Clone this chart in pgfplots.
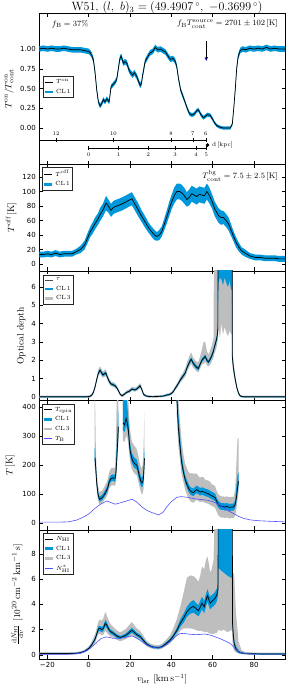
\documentclass[border=0pt]{standalone}
\usepackage{fontspec}
\usepackage{pgfplots}
\pgfplotsset{compat=1.18}
\usepackage{pgfplotstable}
\usepgfplotslibrary{fillbetween}
\usetikzlibrary{arrows.meta}
\newfontfamily\tickfont{DejaVu Sans}
\definecolor{clblue}{RGB}{0,152,218}
\definecolor{clgray}{RGB}{190,190,190}
\definecolor{tbblue}{RGB}{80,80,255}

\pgfplotsset{
  panel/.style={
    scale only axis, width=245.7pt, anchor=south west,
    xmin=-23.9, xmax=95,
    xtick={-20,0,20,40,60,80},
    xticklabels={},
    tick align=inside,
    major tick length=3.5pt,
    every tick/.style={black, line width=0.5pt},
    axis line style={line width=0.7pt},
    tick label style={font=\tickfont\fontsize{7}{8}\selectfont},
    label style={font=\fontsize{9.5}{11}\selectfont},
    legend cell align=left,
    legend style={font=\fontsize{6}{7}\selectfont, draw=black!85, line width=0.7pt,
      inner sep=0.5pt, anchor=north west},
    legend image code/.code={\draw[##1] (0pt,0pt) -- (8pt,0pt);},
  },
}

% ---------- data ----------
\pgfplotstableread{
v y e
-24 1.00 0.035
-22 1.01 0.035
-20 1.00 0.035
-18 1.01 0.035
-16 1.00 0.035
-14 1.00 0.035
-12 1.01 0.035
-10 1.00 0.035
-8 0.99 0.035
-6 0.99 0.035
-4 0.99 0.035
-2 0.98 0.035
0 0.97 0.035
0.8 0.95 0.035
1.5 0.92 0.035
2.3 0.86 0.035
3.1 0.70 0.035
3.9 0.48 0.03
4.7 0.33 0.03
5.5 0.28 0.03
6.3 0.31 0.03
7.1 0.36 0.03
7.9 0.33 0.03
8.8 0.37 0.03
9.9 0.33 0.03
10.8 0.52 0.03
11.8 0.55 0.03
12.8 0.58 0.03
13.6 0.62 0.03
14.4 0.76 0.035
15.1 0.88 0.035
15.7 0.91 0.035
16.8 0.82 0.035
17.6 0.84 0.035
18.5 0.82 0.035
19.3 0.75 0.035
20 0.71 0.035
21.2 0.67 0.035
22.1 0.70 0.035
23.3 0.65 0.035
24.3 0.58 0.035
24.9 0.54 0.035
25.5 0.56 0.035
26 0.65 0.035
27.3 0.84 0.035
28.5 0.90 0.035
29.7 0.95 0.035
31 0.97 0.035
32.2 1.02 0.035
33.5 0.99 0.035
34.7 1.00 0.035
36 0.98 0.035
37.2 0.96 0.035
38.4 0.91 0.035
39.5 0.87 0.035
40.8 0.88 0.035
41.8 0.85 0.035
42.6 0.78 0.035
43.5 0.62 0.03
44.5 0.48 0.03
45.5 0.41 0.03
46.6 0.33 0.025
47.8 0.24 0.025
48.8 0.18 0.025
49.9 0.165 0.025
50.7 0.17 0.025
51.5 0.19 0.025
52.3 0.22 0.025
53.1 0.23 0.025
54.3 0.17 0.025
55.5 0.13 0.025
56.5 0.15 0.025
57.5 0.17 0.025
58.8 0.16 0.025
59.8 0.12 0.025
60.8 0.07 0.02
62 0.03 0.02
63.6 0.01 0.02
65 0.00 0.02
67 0.00 0.02
68.5 0.00 0.02
69.5 0.05 0.02
70.2 0.25 0.025
70.9 0.48 0.03
71.6 0.75 0.035
72.3 0.90 0.035
73.3 0.98 0.035
74.5 1.00 0.035
76 0.99 0.035
78 1.01 0.035
80 1.00 0.035
82 1.01 0.035
84 1.00 0.035
86 1.02 0.035
88 1.00 0.035
90 1.01 0.035
92 1.00 0.035
95 1.00 0.035
}\Ton

\pgfplotstableread{
v y e
-24 13 4
-22 13 4
-20 14 4
-18 13 4
-16 15 4
-14 13 4
-12 14 4
-10 14 4
-8 14 4
-6 17 4
-4 20 5
-2 26 6
-0.5 36 7
0.7 44 7
2 50 8
3.1 56 8
4.5 62 8
5.5 68 9
7 75 9
8.4 84 10
9.5 80 9
10.8 74 9
12 78 9
13.6 80 9
15.5 82 9
17.6 85 9
19.5 88 9
20.9 90 9
22.5 82 9
24.1 74 9
25.6 66 8
27.3 58 8
29 50 7
30.6 44 7
31.8 40 7
33 38 6
34.2 40 7
35.4 45 7
36.5 54 8
37.8 65 9
39 76 10
40.2 86 10
41.5 95 11
42.7 100 11
44 100 11
45.1 98 11
46.3 94 11
47.5 89 10
48.7 92 11
49.9 97 11
51 95 11
52.3 93 11
53.5 96 11
54.8 95 11
56 94 11
57.2 100 11
58.3 95 11
59.6 87 10
61 76 10
62.8 67 10
64 64 10
65.2 64 9
66.5 60 9
67.7 55 9
69 46 8
70.1 38 7
71.3 30 7
72.5 24 6
74 18 5
75.7 15 5
78 11 4
80.6 9 4
83 9 4
85 8 4
87 8 4
90 8 4
92 7 4
95 7 4
}\Toff

\pgfplotstableread{
v y a1 b1 a3 b3
-24 0 0.03 0.03 0.06 0.06
-18 0 0.03 0.03 0.06 0.06
-12 0 0.03 0.03 0.06 0.06
-6 0 0.03 0.03 0.06 0.06
-2 0 0.03 0.03 0.06 0.06
0.5 0.02 0.03 0.03 0.06 0.06
1.5 0.1 0.04 0.04 0.08 0.08
2.3 0.25 0.05 0.05 0.1 0.1
3.1 0.55 0.06 0.06 0.12 0.12
3.9 0.95 0.07 0.07 0.15 0.15
4.7 1.3 0.08 0.08 0.17 0.2
5.5 1.45 0.08 0.08 0.18 0.22
6.3 1.3 0.08 0.08 0.17 0.2
6.8 1.2 0.08 0.08 0.16 0.18
7.6 1.25 0.08 0.08 0.16 0.2
8.3 1.3 0.08 0.08 0.17 0.2
9.1 1.05 0.07 0.07 0.15 0.17
9.9 0.85 0.07 0.07 0.14 0.15
10.8 0.7 0.06 0.06 0.12 0.14
12 0.65 0.06 0.06 0.12 0.14
12.8 0.6 0.06 0.06 0.12 0.13
13.6 0.5 0.05 0.05 0.1 0.12
14.4 0.33 0.05 0.05 0.1 0.1
15.2 0.15 0.04 0.04 0.08 0.08
16 0.06 0.04 0.04 0.07 0.07
16.8 0.1 0.04 0.04 0.07 0.08
17.6 0.18 0.04 0.04 0.08 0.08
18.5 0.25 0.04 0.04 0.08 0.1
19.6 0.3 0.05 0.05 0.09 0.1
20.9 0.42 0.05 0.05 0.1 0.12
21.7 0.4 0.05 0.05 0.1 0.12
22.5 0.38 0.05 0.05 0.1 0.12
23.5 0.45 0.05 0.05 0.1 0.13
24.9 0.6 0.06 0.06 0.12 0.15
25.7 0.4 0.05 0.05 0.1 0.12
26.5 0.15 0.04 0.04 0.08 0.08
27.5 0.06 0.03 0.03 0.07 0.07
28.9 0.02 0.03 0.03 0.06 0.06
31 0.01 0.03 0.03 0.06 0.06
33 0.02 0.03 0.03 0.06 0.06
35 0.03 0.03 0.03 0.06 0.06
36.5 0.05 0.03 0.03 0.06 0.07
37.8 0.1 0.04 0.04 0.07 0.08
39 0.12 0.04 0.04 0.07 0.08
40.2 0.2 0.04 0.04 0.08 0.1
41 0.3 0.05 0.05 0.09 0.1
41.8 0.45 0.05 0.05 0.1 0.12
42.7 0.6 0.06 0.06 0.12 0.14
43.5 0.75 0.06 0.06 0.13 0.15
44.5 0.95 0.07 0.07 0.15 0.18
45.5 1.1 0.07 0.07 0.17 0.2
46.7 1.3 0.08 0.08 0.2 0.25
47.8 1.65 0.09 0.09 0.22 0.3
48.8 1.9 0.1 0.1 0.25 0.35
49.6 2.05 0.1 0.1 0.25 0.38
50.5 1.85 0.1 0.1 0.25 0.3
51.5 1.7 0.1 0.1 0.22 0.3
52.3 1.6 0.1 0.1 0.22 0.3
53.1 1.55 0.1 0.1 0.22 0.35
54 1.8 0.1 0.1 0.25 0.45
54.8 2.0 0.1 0.1 0.25 0.6
55.6 2.1 0.1 0.1 0.3 0.9
56.4 2.2 0.1 0.1 0.3 0.8
57.2 2.0 0.1 0.1 0.28 0.5
58 1.9 0.1 0.1 0.25 0.4
58.8 2.05 0.1 0.1 0.28 0.5
59.6 2.25 0.12 0.12 0.3 0.55
60.4 2.5 0.12 0.12 0.35 0.7
60.8 2.7 0.12 0.12 0.35 9
61.2 2.85 0.13 0.13 0.4 9
62 3.2 0.15 0.15 0.45 9
62.5 3.6 0.2 0.5 0.5 9
62.8 30 23.8 5 26.2 5
63.5 30 23.5 5 26.8 5
64.2 30 23.6 5 26.0 5
65 30 23.9 5 26.6 5
65.8 30 23.5 5 26.2 5
66.6 30 23.8 5 26.5 5
67.4 30 24.0 5 26.7 5
68.2 30 23.7 5 26.4 5
69.0 30 24.2 5 26.6 5
69.3 30 24.0 5 26.5 5
69.5 2.2 0.15 0.3 0.4 0.6
70 1.6 0.12 0.2 0.3 0.4
70.4 1.3 0.1 0.15 0.25 0.3
71 0.9 0.08 0.1 0.2 0.2
71.7 0.5 0.06 0.06 0.12 0.15
72.5 0.2 0.05 0.05 0.1 0.1
73.3 0.05 0.03 0.03 0.07 0.07
74.5 0.01 0.03 0.03 0.06 0.06
76 0 0.03 0.03 0.06 0.06
82 0 0.03 0.03 0.06 0.06
88 0 0.03 0.03 0.06 0.06
95 0 0.03 0.03 0.06 0.06
}\tauT

\pgfplotstableread{
v y a1 b1 a3 b3
2.9 224 15 36 30 200
3.1 224 15 36 30 200
3.5 180 12 20 30 60
3.9 138 10 15 25 40
4.5 100 8 12 20 30
5.2 83 8 10 18 25
5.9 85 8 10 18 25
6.5 88 8 10 18 25
7.2 95 8 10 18 25
7.9 103 9 11 20 28
8.6 112 9 11 20 28
9.2 122 10 12 22 30
9.8 140 10 12 22 32
10.4 150 10 12 25 35
11.0 155 10 12 25 35
11.6 157 10 12 25 35
12.2 155 10 12 25 35
12.8 155 12 15 25 40
13.2 175 15 30 30 100
13.5 210 15 50 30 200
13.9 264 20 60 40 200
14.4 333 30 60 50 200
}\TsA

\pgfplotstableread{
v y a1 b1 a3 b3
16.6 345 25 100 60 100
16.8 345 25 100 60 100
17.4 340 25 100 60 100
18.1 362 25 80 60 100
18.7 345 22 60 50 100
19.2 322 20 40 50 100
19.6 285 18 30 45 80
20.0 253 16 25 40 70
20.8 225 15 20 35 60
21.6 212 15 20 35 60
22.4 205 15 20 35 60
23.3 200 15 20 35 55
24.0 180 15 20 35 55
24.6 161 15 18 35 50
25.2 145 15 18 35 50
25.7 140 15 18 40 50
26.1 142 15 20 40 60
26.5 155 15 30 40 100
27.0 224 20 40 40 160
}\TsB

\pgfplotstableread{
v y a1 b1 a3 b3
42.5 430 20 100 60 100
42.7 430 20 100 60 100
43.0 380 20 60 60 100
43.4 330 20 50 60 100
44.0 280 18 40 50 90
44.6 235 15 30 45 80
45.1 205 15 25 40 70
45.9 175 12 18 35 60
46.7 150 12 15 35 55
47.5 135 12 15 35 55
48.3 122 12 14 35 55
49.1 112 12 14 35 60
49.9 108 12 14 35 65
50.7 106 12 14 35 65
51.5 112 12 14 35 60
52.3 116 12 14 35 55
53.1 112 12 14 35 50
53.9 108 12 14 35 50
54.7 110 12 14 35 50
55.5 109 12 14 35 50
56.3 106 12 14 35 45
57.2 104 12 14 35 45
58.0 102 12 14 35 45
58.8 98 12 14 35 45
59.6 95 12 14 35 40
60.4 92 12 14 35 40
61.2 88 12 14 35 40
62.0 75 12 12 36 35
62.8 65 12 12 38 35
63.6 60 12 12 38 35
64.4 58 12 12 38 35
65.2 58 12 12 38 35
66.0 56 12 12 38 35
66.8 58 12 12 38 35
67.6 56 12 12 38 35
68.4 55 12 12 38 35
69.3 56 12 12 38 35
70.1 56 12 12 38 35
70.9 65 12 15 38 50
71.5 90 15 40 40 120
72.0 120 15 45 40 170
72.5 145 15 30 40 150
}\TsC

\pgfplotstableread{
v y
-24 4
-15 4
-10 5
-5.9 11
-3 20
0 32
3.1 52
5.5 65
8.7 77
10 74
12.8 66
16 72
20.9 83
23 75
25.7 57
28 45
30.6 37
33.8 29
36 38
37.8 57
40 75
42.7 90
45 92
47.5 90
52 84
57.2 80
60 75
63.6 63
67 45
70.1 34
72.5 24
75 17
78 12
82 9
88 7
95 5
}\TB

\pgfplotstableread{
v y a1 b1 a3 b3
-24 0.1 0.05 0.05 0.08 0.1
-20 0.1 0.05 0.05 0.08 0.1
-15 0.1 0.05 0.05 0.08 0.1
-10 0.1 0.05 0.05 0.08 0.1
-6 0.12 0.05 0.05 0.08 0.1
-4 0.17 0.05 0.05 0.08 0.1
-2 0.28 0.06 0.06 0.1 0.12
0 0.5 0.07 0.07 0.12 0.15
1.5 0.8 0.08 0.08 0.2 0.25
3.1 1.25 0.12 0.12 0.3 0.4
4 1.7 0.15 0.15 0.35 0.5
4.7 2.05 0.2 0.2 0.4 0.6
5.5 2.1 0.2 0.2 0.45 0.7
6.3 2.0 0.2 0.2 0.45 0.7
7.1 2.1 0.22 0.22 0.5 0.8
8.0 2.5 0.25 0.25 0.6 0.9
8.6 2.4 0.25 0.25 0.6 0.8
9.5 2.1 0.2 0.2 0.5 0.7
10.5 1.85 0.18 0.18 0.4 0.6
12 1.7 0.15 0.15 0.35 0.5
13.5 1.5 0.15 0.15 0.3 0.45
15.2 1.38 0.12 0.12 0.3 0.4
16.5 1.45 0.12 0.12 0.3 0.45
18 1.55 0.15 0.15 0.3 0.5
19.5 1.75 0.18 0.18 0.35 0.6
20.9 1.95 0.2 0.2 0.4 0.65
22 1.8 0.18 0.18 0.35 0.55
23.3 1.6 0.15 0.15 0.35 0.5
24.9 1.45 0.15 0.15 0.3 0.45
26.5 1.15 0.12 0.12 0.25 0.35
28.1 0.85 0.1 0.1 0.2 0.25
30 0.68 0.08 0.08 0.15 0.2
31.5 0.6 0.08 0.08 0.15 0.2
33.8 0.57 0.08 0.08 0.15 0.2
35.5 0.65 0.08 0.08 0.15 0.22
37.5 0.9 0.1 0.1 0.2 0.3
39.4 1.17 0.12 0.12 0.25 0.4
41 1.5 0.15 0.15 0.3 0.6
42.7 1.95 0.2 0.2 0.4 0.9
44.3 2.5 0.3 0.3 0.6 1.3
45.9 2.9 0.35 0.35 0.8 2.0
47.5 3.4 0.4 0.4 1.3 2.7
49.1 3.7 0.45 0.45 1.6 2.6
50.7 3.85 0.5 0.5 1.8 2.4
52 3.65 0.45 0.45 1.7 2.4
53.1 3.5 0.45 0.45 1.6 2.3
54 3.8 0.5 0.5 1.9 2.5
54.8 4.1 0.5 0.5 2.2 2.9
55.9 3.8 0.5 0.5 2.0 3.0
56.7 4.3 0.5 0.5 2.5 3.2
57.5 4.7 0.5 0.5 2.9 3.1
58.3 4.3 0.5 0.5 2.6 2.8
58.8 4.1 0.5 0.5 2.4 2.4
59.6 4.25 0.5 0.5 2.6 2.6
60.4 4.35 0.5 0.5 2.7 3.2
61.2 4.5 0.5 0.5 2.8 8
62 4.75 0.5 0.5 3.0 8
62.6 5.2 0.5 0.5 3.3 8
62.8 30 23.1 5 28.0 5
64 30 23.3 5 28.1 5
65.5 30 23.5 5 28.0 5
67 30 23.7 5 28.2 5
68.5 30 23.85 5 28.1 5
69.3 30 23.9 5 28.0 5
69.6 2.5 0.4 1.0 1.5 4.0
70 1.5 0.3 0.5 1.0 5.0
70.4 0.9 0.2 0.3 0.6 5.5
71.2 0.5 0.15 0.2 0.3 3.0
72.5 0.25 0.1 0.1 0.15 0.8
74 0.15 0.06 0.06 0.1 0.2
76 0.1 0.05 0.05 0.08 0.12
80 0.08 0.05 0.05 0.08 0.1
85 0.07 0.05 0.05 0.08 0.1
90 0.07 0.05 0.05 0.08 0.1
95 0.07 0.05 0.05 0.08 0.1
}\NHI

\pgfplotstableread{
v y
-24 0.05
-10 0.05
-6 0.08
-4 0.13
-2 0.25
0 0.42
2 0.7
4 1.0
6 1.3
8.4 1.42
10 1.38
12 1.3
15 1.3
18 1.4
20.9 1.5
23 1.35
25 1.15
27 0.9
29 0.72
31 0.6
33.8 0.55
36 0.65
38 0.85
40 1.15
42 1.45
44 1.68
46 1.7
48 1.65
50 1.62
52 1.6
54 1.62
56 1.65
58 1.6
60 1.5
62 1.38
64 1.25
66 1.1
68 0.95
69.5 0.75
71 0.45
72.5 0.25
74 0.15
76 0.1
80 0.06
95 0.05
}\Nstar

\begin{document}
\begin{tikzpicture}

% ================= Panel 1 =================
\begin{axis}[panel, at={(39.3pt,523.7pt)}, height=151pt,
  ymin=-0.459, ymax=1.452,
  ytick={0,0.25,0.5,0.75,1}, yticklabels={0.00,0.25,0.50,0.75,1.00},
  ylabel={$T^{\mathrm{on}}/T^{\mathrm{on}}_{\mathrm{cont}}$},
  ylabel style={at={(axis description cs:-0.123,0.5)}, anchor=center},
  title={W51, $(l,\ b)_3 = (49.4907\,{}^{\circ},\ -0.3699\,{}^{\circ})$},
  every axis title/.style={at={(axis description cs:0.52,1)}, anchor=base, yshift=2.3pt,
    inner sep=0pt, font=\fontsize{12}{14}\selectfont},
  legend style={at={(0.014,0.585)}},
]
\addplot[name path=p1u, draw=none, forget plot] table[x=v, y expr=\thisrow{y}+\thisrow{e}] \Ton;
\addplot[name path=p1l, draw=none, forget plot] table[x=v, y expr=\thisrow{y}-\thisrow{e}] \Ton;
\addplot[fill=clblue, draw=none, forget plot] fill between[of=p1u and p1l];
\addplot[black, line width=0.7pt, forget plot] table[x=v, y=y] \Ton;
% distance scales
\addplot[black, line width=0.6pt, forget plot] coordinates {(-30,-0.152) (56.7,-0.152)};
\addplot[black, line width=0.6pt, only marks, mark=|, mark size=2.3pt, forget plot]
  coordinates {(-15.8,-0.152) (12.0,-0.152) (39.8,-0.152) (50.4,-0.152) (56.7,-0.152)};
\addplot[only marks, mark=none, forget plot, nodes near coords, point meta=explicit symbolic,
  every node near coord/.append style={anchor=center, text=black, font=\fontsize{5.5}{6}\selectfont}]
  coordinates {(-15.8,-0.067)[12] (12.0,-0.067)[10] (39.8,-0.067)[8] (50.4,-0.067)[7] (56.7,-0.067)[6]};
\addplot[black, line width=0.6pt, mark=|, mark size=2.3pt, forget plot]
  coordinates {(0,-0.253) (14.4,-0.253) (28.9,-0.253) (41.8,-0.253) (51.9,-0.253) (56.9,-0.253)};
\addplot[only marks, mark=none, forget plot, nodes near coords, point meta=explicit symbolic,
  every node near coord/.append style={anchor=center, text=black, font=\fontsize{5.5}{6}\selectfont}]
  coordinates {(0,-0.333)[0] (14.4,-0.333)[1] (28.9,-0.333)[2] (41.8,-0.333)[3] (51.9,-0.333)[4] (56.9,-0.333)[5]};
\addplot[black, only marks, mark=*, mark size=1.5pt, forget plot] coordinates {(57.5,-0.215)};
\node[anchor=west, font=\fontsize{6}{7}\selectfont, inner sep=1pt] at (axis cs:59.2,-0.215) {d\,[kpc]};
% arrow
\addplot[black, line width=0.6pt, -{Stealth[length=4pt, width=3.5pt, color=blue!55!black]}, forget plot]
  coordinates {(56.9,1.10) (56.9,0.85)};
\node[anchor=west, font=\fontsize{8}{9}\selectfont] at (axis cs:-19.5,1.316) {$f_{\mathrm{B}} = 37\%$};
\node[anchor=east, font=\fontsize{8}{9}\selectfont] at (axis description cs:0.985,0.929)
  {$f_{\mathrm{B}} T^{\mathrm{source}}_{\mathrm{cont}} = 2701 \pm 102\,[\mathrm{K}]$};
\addlegendimage{black, line width=0.7pt}
\addlegendentry{$T^{\mathrm{on}}$}
\addlegendimage{clblue, line width=2.5pt}
\addlegendentry{CL\,1}
\end{axis}

% ================= Panel 2 =================
\begin{axis}[panel, at={(39.3pt,417pt)}, height=106.7pt,
  ymin=-9.7, ymax=137.5,
  ytick={0,20,40,60,80,100,120}, yticklabels={0,20,40,60,80,100,120},
  ylabel={$T^{\mathrm{off}}\,[\mathrm{K}]$},
  ylabel style={at={(axis description cs:-0.115,0.5)}, anchor=center},
  legend style={at={(0.011,0.972)}},
]
\addplot[name path=p2u, draw=none, forget plot] table[x=v, y expr=\thisrow{y}+\thisrow{e}] \Toff;
\addplot[name path=p2l, draw=none, forget plot] table[x=v, y expr=\thisrow{y}-\thisrow{e}] \Toff;
\addplot[fill=clblue, draw=none, forget plot] fill between[of=p2u and p2l];
\addplot[black, line width=0.7pt, forget plot] table[x=v, y=y] \Toff;
\node[anchor=east, font=\fontsize{8}{9}\selectfont] at (axis description cs:0.985,0.892)
  {$T^{\mathrm{bg}}_{\mathrm{cont}} = 7.5 \pm 2.5\,[\mathrm{K}]$};
\addlegendimage{black, line width=0.7pt}
\addlegendentry{$T^{\mathrm{off}}$}
\addlegendimage{clblue, line width=2.5pt}
\addlegendentry{CL\,1}
\end{axis}

% ================= Panel 3 =================
\begin{axis}[panel, at={(39.3pt,287.3pt)}, height=129.7pt,
  ymin=-0.21, ymax=6.86,
  ytick={0,1,2,3,4,5,6}, yticklabels={0,1,2,3,4,5,6},
  ylabel={Optical depth},
  ylabel style={at={(axis description cs:-0.074,0.5)}, anchor=center},
  legend style={at={(0.014,0.969)}},
]
\addplot[name path=p3u3, draw=none, forget plot] table[x=v, y expr=\thisrow{y}+\thisrow{b3}] \tauT;
\addplot[name path=p3l3, draw=none, forget plot] table[x=v, y expr=\thisrow{y}-\thisrow{a3}] \tauT;
\addplot[fill=clgray, draw=none, forget plot] fill between[of=p3u3 and p3l3];
\addplot[name path=p3u1, draw=none, forget plot] table[x=v, y expr=\thisrow{y}+\thisrow{b1}] \tauT;
\addplot[name path=p3l1, draw=none, forget plot] table[x=v, y expr=\thisrow{y}-\thisrow{a1}] \tauT;
\addplot[fill=clblue, draw=none, forget plot] fill between[of=p3u1 and p3l1];
\addplot[black, line width=0.7pt, forget plot] table[x=v, y=y] \tauT;
\addlegendimage{black!70, line width=0.7pt}
\addlegendentry{$\tau$}
\addlegendimage{clblue, line width=2.5pt}
\addlegendentry{CL\,1}
\addlegendimage{clgray, line width=2.5pt}
\addlegendentry{CL\,3}
\end{axis}

% ================= Panel 4 =================
\begin{axis}[panel, at={(39.3pt,158pt)}, height=129.3pt,
  ymin=-23, ymax=423,
  ytick={0,100,200,300,400}, yticklabels={0,100,200,300,400},
  ylabel={$T\,[\mathrm{K}]$},
  ylabel style={at={(axis description cs:-0.119,0.5)}, anchor=center},
  legend style={at={(0.01,0.974)}},
]
% segment A
\addplot[name path=aU3, draw=none, forget plot] table[x=v, y expr=\thisrow{y}+\thisrow{b3}] \TsA;
\addplot[name path=aL3, draw=none, forget plot] table[x=v, y expr=\thisrow{y}-\thisrow{a3}] \TsA;
\addplot[fill=clgray, draw=none, forget plot] fill between[of=aU3 and aL3];
\addplot[name path=aU1, draw=none, forget plot] table[x=v, y expr=\thisrow{y}+\thisrow{b1}] \TsA;
\addplot[name path=aL1, draw=none, forget plot] table[x=v, y expr=\thisrow{y}-\thisrow{a1}] \TsA;
\addplot[fill=clblue, draw=none, forget plot] fill between[of=aU1 and aL1];
% segment B
\addplot[name path=bU3, draw=none, forget plot] table[x=v, y expr=\thisrow{y}+\thisrow{b3}] \TsB;
\addplot[name path=bL3, draw=none, forget plot] table[x=v, y expr=\thisrow{y}-\thisrow{a3}] \TsB;
\addplot[fill=clgray, draw=none, forget plot] fill between[of=bU3 and bL3];
\addplot[name path=bU1, draw=none, forget plot] table[x=v, y expr=\thisrow{y}+\thisrow{b1}] \TsB;
\addplot[name path=bL1, draw=none, forget plot] table[x=v, y expr=\thisrow{y}-\thisrow{a1}] \TsB;
\addplot[fill=clblue, draw=none, forget plot] fill between[of=bU1 and bL1];
% segment C
\addplot[name path=cU3, draw=none, forget plot] table[x=v, y expr=\thisrow{y}+\thisrow{b3}] \TsC;
\addplot[name path=cL3, draw=none, forget plot] table[x=v, y expr=\thisrow{y}-\thisrow{a3}] \TsC;
\addplot[fill=clgray, draw=none, forget plot] fill between[of=cU3 and cL3];
\addplot[name path=cU1, draw=none, forget plot] table[x=v, y expr=\thisrow{y}+\thisrow{b1}] \TsC;
\addplot[name path=cL1, draw=none, forget plot] table[x=v, y expr=\thisrow{y}-\thisrow{a1}] \TsC;
\addplot[fill=clblue, draw=none, forget plot] fill between[of=cU1 and cL1];
\addplot[black, line width=0.7pt, forget plot] table[x=v, y=y] \TsA;
\addplot[black, line width=0.7pt, forget plot] table[x=v, y=y] \TsB;
\addplot[black, line width=0.7pt, forget plot] table[x=v, y=y] \TsC;
\addplot[tbblue, line width=0.6pt, forget plot] table[x=v, y=y] \TB;
\addlegendimage{black, line width=0.7pt}
\addlegendentry{$T_{\mathrm{spin}}$}
\addlegendimage{clblue, line width=2.5pt}
\addlegendentry{CL\,1}
\addlegendimage{clgray, line width=2.5pt}
\addlegendentry{CL\,3}
\addlegendimage{tbblue, line width=0.6pt}
\addlegendentry{$T_{\mathrm{B}}$}
\end{axis}

% ================= Panel 5 =================
\begin{axis}[panel, at={(39.3pt,29pt)}, height=129pt,
  ymin=-0.33, ymax=9.9,
  ytick={0,2,4,6,8}, yticklabels={0,2,4,6,8},
  xticklabels={−20,0,20,40,60,80},
  ylabel={$\frac{\mathrm{d}N_{\mathrm{HI}}}{\mathrm{d}v}\ [10^{20}\,\mathrm{cm^{-2}\,km^{-1}\,s}]$},
  ylabel style={at={(axis description cs:-0.089,0.5)}, anchor=center},
  xlabel={$v_{\mathrm{lsr}}\ [\mathrm{km\,s^{-1}}]$},
  xlabel style={at={(axis description cs:0.5,-0.155)}, anchor=center},
  legend style={at={(0.014,0.974)}},
]
\addplot[name path=p5u3, draw=none, forget plot] table[x=v, y expr=\thisrow{y}+\thisrow{b3}] \NHI;
\addplot[name path=p5l3, draw=none, forget plot] table[x=v, y expr=\thisrow{y}-\thisrow{a3}] \NHI;
\addplot[fill=clgray, draw=none, forget plot] fill between[of=p5u3 and p5l3];
\addplot[name path=p5u1, draw=none, forget plot] table[x=v, y expr=\thisrow{y}+\thisrow{b1}] \NHI;
\addplot[name path=p5l1, draw=none, forget plot] table[x=v, y expr=\thisrow{y}-\thisrow{a1}] \NHI;
\addplot[fill=clblue, draw=none, forget plot] fill between[of=p5u1 and p5l1];
\addplot[black, line width=0.7pt, forget plot] table[x=v, y=y] \NHI;
\addplot[tbblue, line width=0.6pt, forget plot] table[x=v, y=y] \Nstar;
\addlegendimage{black, line width=0.7pt}
\addlegendentry{$N_{\mathrm{HI}}$}
\addlegendimage{clblue, line width=2.5pt}
\addlegendentry{CL\,1}
\addlegendimage{clgray, line width=2.5pt}
\addlegendentry{CL\,3}
\addlegendimage{tbblue, line width=0.6pt}
\addlegendentry{$N^{*}_{\mathrm{HI}}$}
\end{axis}

\pgfresetboundingbox
\useasboundingbox (0,0) rectangle (287pt,688pt);
\end{tikzpicture}
\end{document}
